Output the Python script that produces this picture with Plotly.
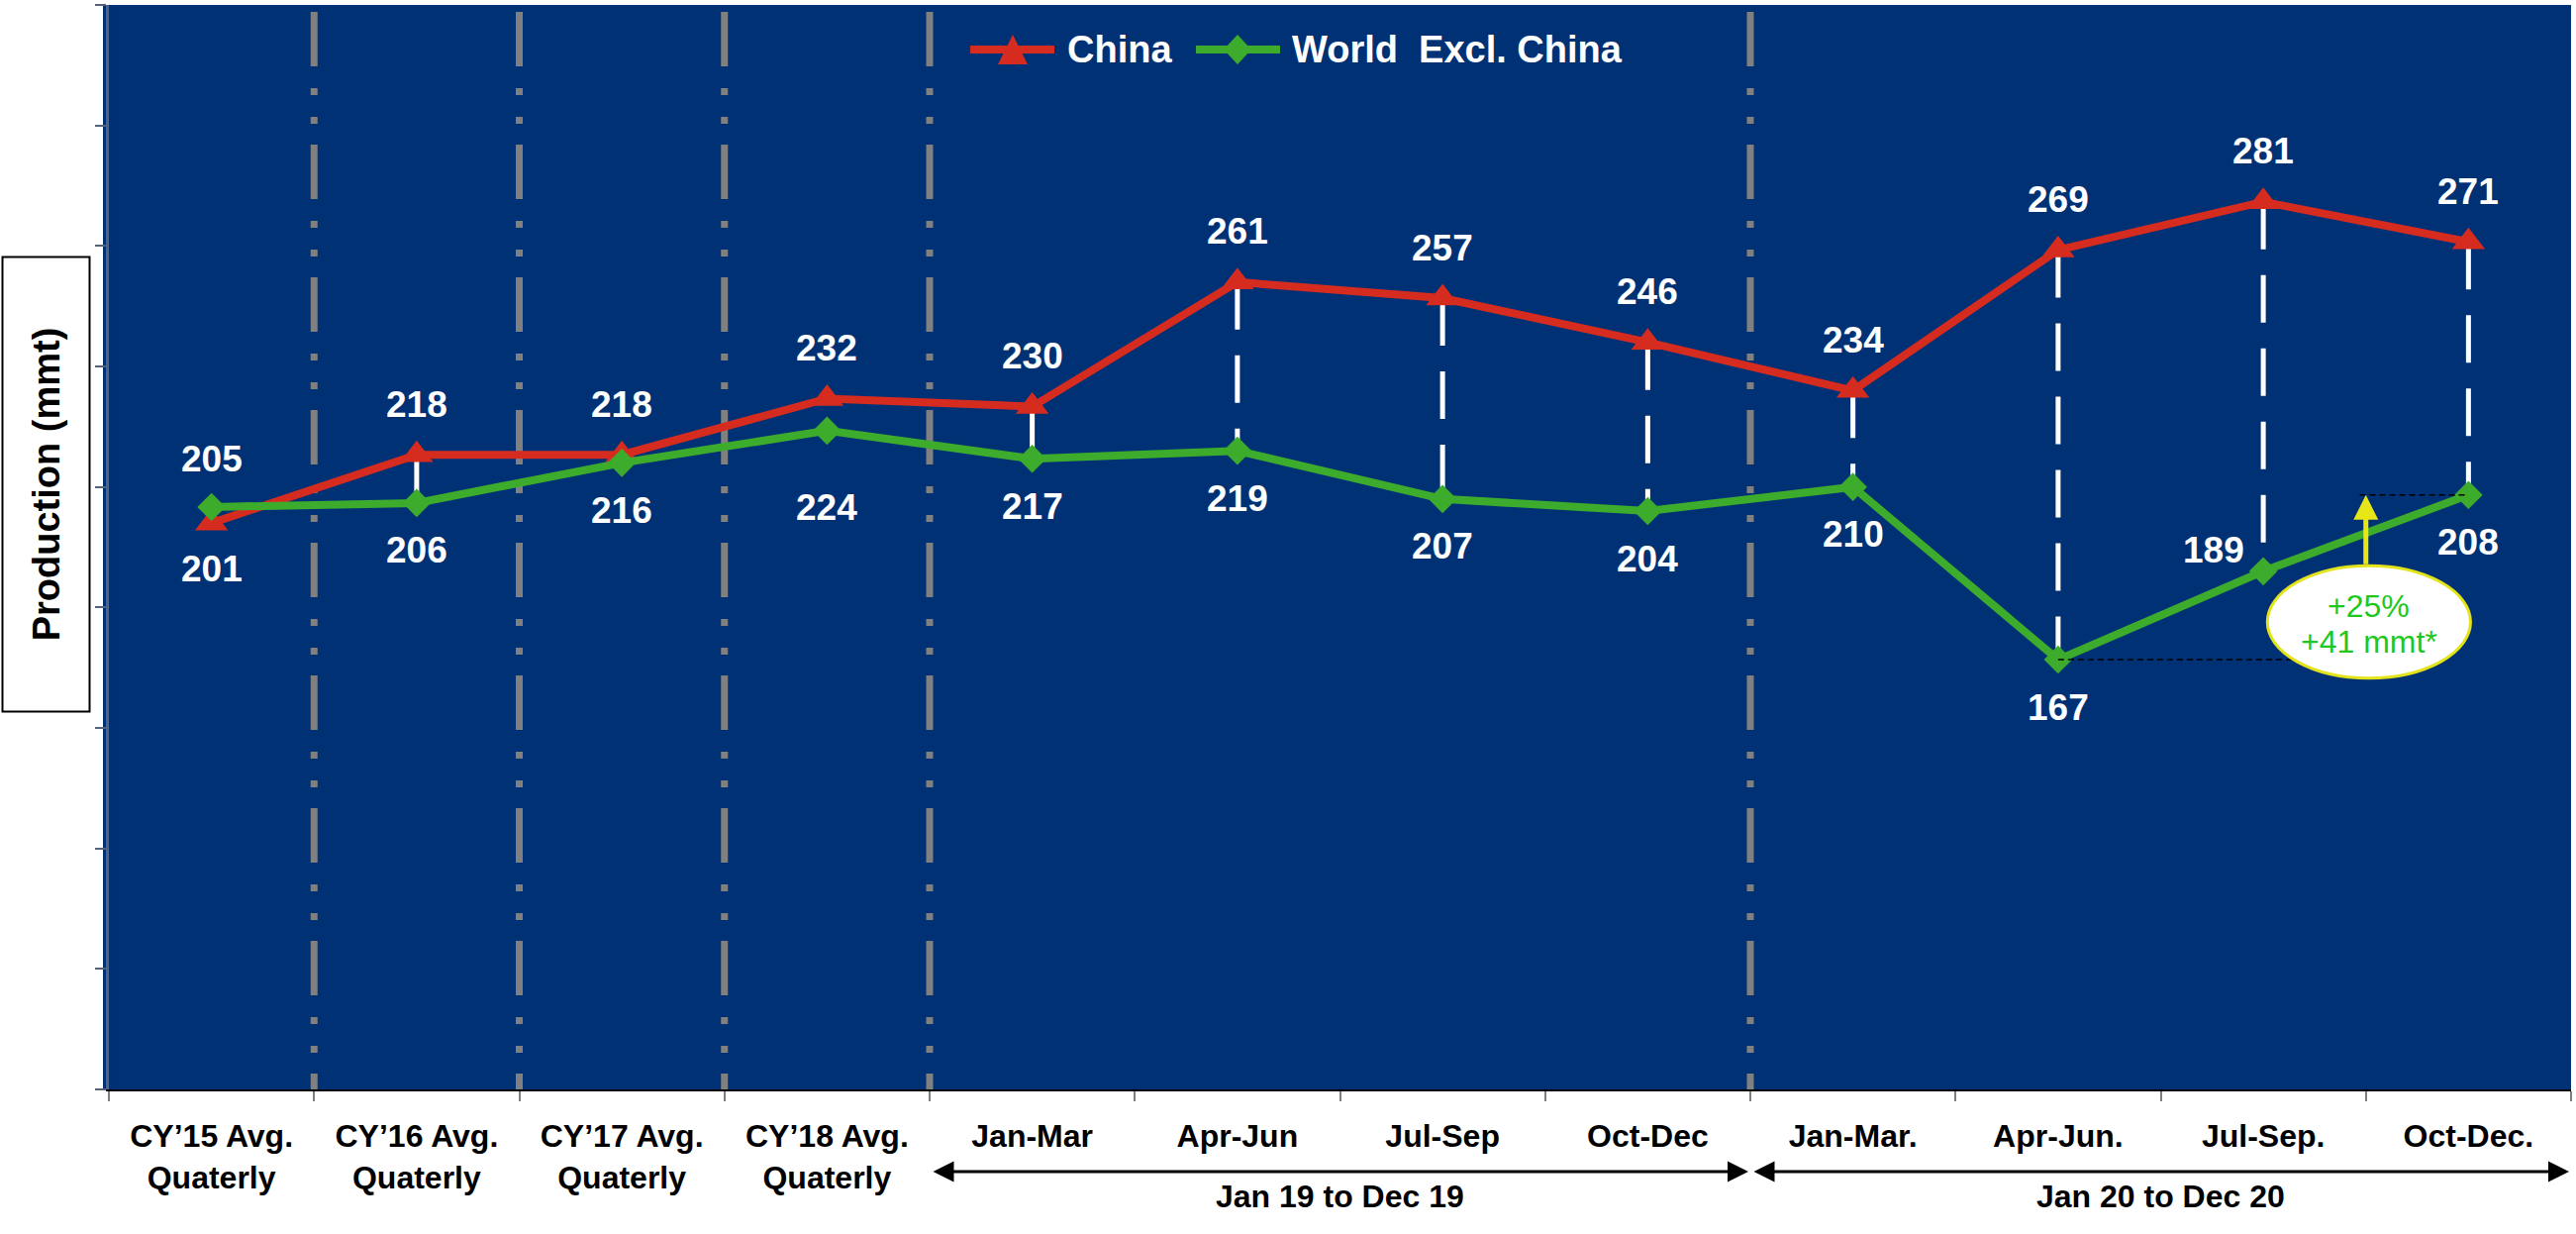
import plotly.graph_objects as go

# ---------------- data ----------------
categories = ["CY’15 Avg.<br>Quaterly", "CY’16 Avg.<br>Quaterly", "CY’17 Avg.<br>Quaterly",
              "CY’18 Avg.<br>Quaterly", "Jan-Mar", "Apr-Jun", "Jul-Sep", "Oct-Dec",
              "Jan-Mar.", "Apr-Jun.", "Jul-Sep.", "Oct-Dec."]
china = [201, 218, 218, 232, 230, 261, 257, 246, 234, 269, 281, 271]
world = [205, 206, 216, 224, 217, 219, 207, 204, 210, 167, 189, 208]
series_names = ["China", "World\u00a0 Excl. China"]
period_labels = ["Jan 19 to Dec 19", "Jan 20 to Dec 20"]
callout_lines = ["+25%", "+41 mmt*"]

# ---------------- style ----------------
W, H = 2602, 1246
PL, PR, PT, PB = 110, 2597, 5, 1100
BLUE = "#003174"
RED = "#D62B1F"
GREEN = "#3DAB2C"
GRAY = "#808080"
FONT = "Liberation Sans, Arial, sans-serif"

def px(x):
    return (x - PL) / (PR - PL)

def py(y):
    return (PB - y) / (PB - PT)

YMIN, YMAX = 60, 330

fig = go.Figure()

# white dashed connectors between the two series
for i in range(len(categories)):
    if i in (0, 2, 3):
        continue
    fig.add_trace(go.Scatter(x=[categories[i], categories[i]], y=[china[i], world[i]],
                             mode="lines", line=dict(color="white", width=5, dash="48px,26px"),
                             hoverinfo="skip", showlegend=False))

fig.add_trace(go.Scatter(x=categories, y=china, mode="lines+markers", name=series_names[0],
                         line=dict(color=RED, width=8),
                         marker=dict(symbol="triangle-up", size=29, color=RED),
                         showlegend=False, cliponaxis=False))
fig.add_trace(go.Scatter(x=categories, y=world, mode="lines+markers", name=series_names[1],
                         line=dict(color=GREEN, width=8),
                         marker=dict(symbol="diamond", size=22, color=GREEN),
                         showlegend=False, cliponaxis=False))

shapes = []
annotations = []

# blue strip left of the axis line
shapes.append(dict(type="rect", xref="paper", yref="paper", x0=px(104), x1=0.002, y0=0, y1=1,
                   fillcolor=BLUE, line=dict(width=0), layer="below"))

# grey dash-dot period separators
for b in [0.5, 1.5, 2.5, 3.5, 7.5]:
    shapes.append(dict(type="line", xref="x", yref="paper", x0=b, x1=b, y0=py(12), y1=0,
                       line=dict(color=GRAY, width=7, dash="55px,22px,7px,22px,7px,21px"),
                       layer="below"))

# value labels
for i, v in enumerate(china):
    ys = -46 if i == 0 else 51
    annotations.append(dict(x=categories[i], y=v, xref="x", yref="y", text=str(v), showarrow=False,
                            yshift=ys, font=dict(family=FONT, size=37, color="white", weight="bold")))
for i, v in enumerate(world):
    ys, xs = -48, 0
    if i == 0:
        ys = 48
    if i == 3:
        ys = -78
    if i == 10:
        ys, xs = 21, -50
    annotations.append(dict(x=categories[i], y=v, xref="x", yref="y", text=str(v), showarrow=False,
                            yshift=ys, xshift=xs,
                            font=dict(family=FONT, size=37, color="white", weight="bold")))

# callout: dashed reference lines, ellipse, arrow, text
shapes.append(dict(type="line", xref="x", yref="y", x0=9, x1=10.25, y0=world[9], y1=world[9],
                   line=dict(color="black", width=1.5, dash="6px,4px")))
shapes.append(dict(type="line", xref="x", yref="y", x0=10.47, x1=11, y0=world[11], y1=world[11],
                   line=dict(color="black", width=1.5, dash="6px,4px")))
shapes.append(dict(type="circle", xref="x", yref="y", x0=10.02, x1=11.01, y0=162.4, y1=190.4,
                   fillcolor="white", line=dict(color="#E3E31C", width=3)))
annotations.append(dict(x=10.5, y=world[11], xref="x", yref="y", ax=10.5, ay=190.4,
                        axref="x", ayref="y", text="", showarrow=True, arrowhead=2,
                        arrowsize=1, arrowwidth=5, arrowcolor="#E6E619"))
annotations.append(dict(x=10.515, y=180.3, xref="x", yref="y", text=callout_lines[0], showarrow=False,
                        font=dict(family=FONT, size=32, color="#1FC71F")))
annotations.append(dict(x=10.515, y=171.4, xref="x", yref="y", text=callout_lines[1], showarrow=False,
                        font=dict(family=FONT, size=32, color="#1FC71F")))

# period double arrows and labels
for (a, b), lab in zip([(3.5, 7.5), (7.5, 11.5)], period_labels):
    annotations.append(dict(x=b, y=py(1183), xref="x", yref="paper", ax=a, ay=0,
                            axref="x", ayref="pixel", text="", showarrow=True,
                            arrowside="end+start", arrowhead=2, arrowsize=1.4, arrowwidth=3,
                            arrowcolor="black", standoff=2, startstandoff=2))
    annotations.append(dict(x=(a + b) / 2, y=py(1228), xref="x", yref="paper", text=lab,
                            showarrow=False, font=dict(family=FONT, size=32, color="black", weight="bold")))

# custom legend
shapes.append(dict(type="line", xref="paper", yref="paper", x0=px(980), x1=px(1065), y0=py(50), y1=py(50),
                   line=dict(color=RED, width=8)))
shapes.append(dict(type="path", xref="paper", yref="paper",
                   path=f"M{px(1008)},{py(65)} L{px(1038)},{py(65)} L{px(1023)},{py(35)} Z",
                   fillcolor=RED, line=dict(width=0)))
annotations.append(dict(x=px(1076), y=py(50), xref="paper", yref="paper", xanchor="left", yanchor="middle",
                        text=series_names[0], showarrow=False,
                        font=dict(family=FONT, size=38, color="white", weight="bold")))
shapes.append(dict(type="line", xref="paper", yref="paper", x0=px(1208), x1=px(1293), y0=py(50), y1=py(50),
                   line=dict(color=GREEN, width=8)))
shapes.append(dict(type="path", xref="paper", yref="paper",
                   path=f"M{px(1236)},{py(50)} L{px(1250)},{py(35)} L{px(1264)},{py(50)} L{px(1250)},{py(65)} Z",
                   fillcolor=GREEN, line=dict(width=0)))
annotations.append(dict(x=px(1303), y=py(50), xref="paper", yref="paper", xanchor="left", yanchor="middle",
                        text=series_names[1], showarrow=False,
                        font=dict(family=FONT, size=38, color="white", weight="bold")))

# y-axis title box
annotations.append(dict(x=px(46), y=py(489.5), xref="paper", yref="paper", xanchor="center", yanchor="middle",
                        text="Production (mmt)",
                        textangle=-90, showarrow=False, width=457, height=86, borderpad=0,
                        bgcolor="white", bordercolor="black", borderwidth=2,
                        font=dict(family=FONT, size=38, color="black", weight="bold")))

fig.update_layout(
    width=W, height=H, autosize=False,
    margin=dict(l=PL, r=W - PR, t=PT, b=H - PB),
    paper_bgcolor="white", plot_bgcolor=BLUE,
    shapes=shapes, annotations=annotations,
    showlegend=False,
)
fig.update_xaxes(type="category", categoryorder="array", categoryarray=categories,
                 range=[-0.5, len(categories) - 0.5], tickson="boundaries",
                 ticks="outside", ticklen=10, tickwidth=2, tickcolor="#7f7f7f",
                 ticklabelstandoff=18,
                 showline=True, linecolor="black", linewidth=2, showgrid=False, zeroline=False,
                 tickfont=dict(family=FONT, size=32, color="black", weight="bold"))
fig.update_yaxes(range=[YMIN, YMAX], tick0=YMIN, dtick=30, showticklabels=False,
                 ticks="outside", ticklen=11, tickwidth=2, tickcolor="#55617d",
                 showline=True, linecolor="#55617d", linewidth=3, showgrid=False, zeroline=False)

fig.write_html("out.html")
